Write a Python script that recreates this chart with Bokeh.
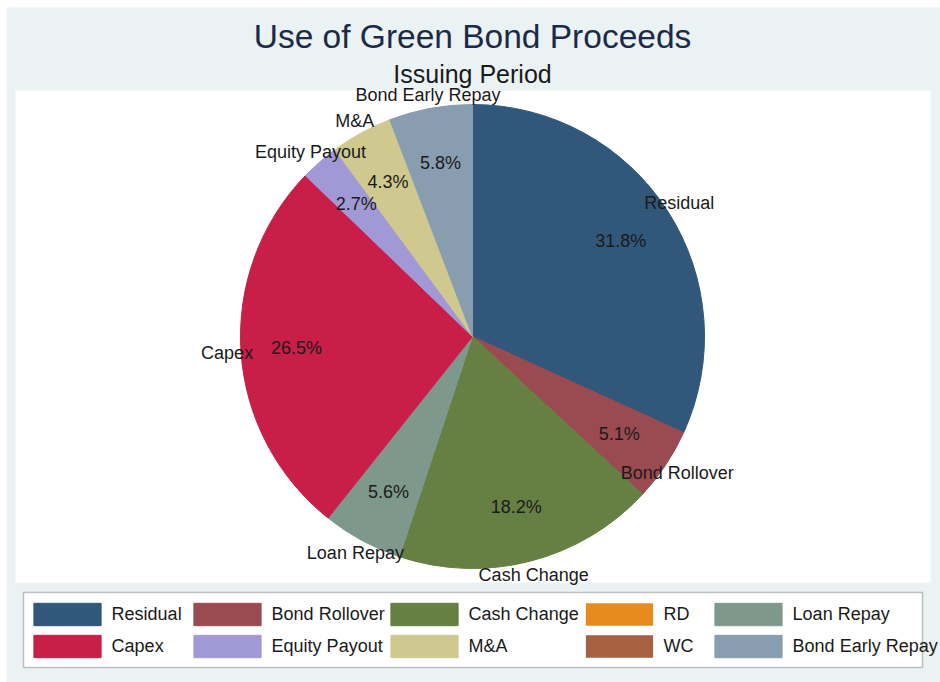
import numpy as np
from bokeh.plotting import figure
from bokeh.models import ColumnDataSource, Range1d, Label, BoxAnnotation, Legend, LegendItem
from bokeh.core.properties import value
from bokeh.embed import file_html
from bokeh.resources import INLINE

# ---- data ----
categories = ["Residual", "Bond Rollover", "Cash Change", "RD", "Loan Repay",
              "Capex", "Equity Payout", "M&A", "WC", "Bond Early Repay"]
shares = [31.8, 5.1, 18.2, 0.0, 5.6, 26.5, 2.7, 4.3, 0.0, 5.8]
colors = ["#31587A", "#9A4A51", "#667F43", "#E88B1E", "#7E998B",
          "#C81E47", "#A099D6", "#CFC98F", "#A66142", "#899DB1"]
title_text = "Use of Green Bond Proceeds"
subtitle_text = "Issuing Period"

# ---- layout (pixel-like data units, y measured up from bottom) ----
W, H = 940, 682
BG = "#EAF2F3"
FONT = "Liberation Sans"
TXT = "#1a1a1a"
cx, cy, R = 472, H - 336, 232

p = figure(width=W, height=H, x_range=Range1d(0, W), y_range=Range1d(0, H),
           x_axis_type=None, y_axis_type=None, toolbar_location=None,
           output_backend="svg", min_border=0, outline_line_color=None,
           background_fill_color="white", border_fill_color="white")
p.grid.visible = False

# graph region, plot region and legend box
p.add_layout(BoxAnnotation(left=6, right=W, top=H - 7, bottom=0,
                           fill_color=BG, fill_alpha=1, line_color=None, level="underlay"))
p.add_layout(BoxAnnotation(left=15, right=930, top=H - 90, bottom=H - 582,
                           fill_color="white", fill_alpha=1, line_color=None, level="underlay"))
p.add_layout(BoxAnnotation(left=23, right=922, top=H - 592, bottom=H - 667,
                           fill_color="white", fill_alpha=1, line_color="#3c3c3c",
                           line_width=1.5, level="underlay"))

# ---- pie ----
frac = np.array(shares) / sum(shares)
cum_end = np.cumsum(frac)
cum_start = cum_end - frac
start = np.pi / 2 - 2 * np.pi * cum_start
end = np.pi / 2 - 2 * np.pi * cum_end
src = ColumnDataSource(dict(cat=categories, share=shares, color=colors,
                            start=start, end=end,
                            rad=[R if v > 0 else 0.0 for v in shares],
                            lalpha=[1.0 if v > 0 else 0.0 for v in shares]))
wr = p.wedge(x=cx, y=cy, radius="rad", start_angle="start", end_angle="end",
             direction="clock", fill_color="color", line_color="color",
             line_alpha="lalpha", line_width=1, source=src)

# ---- slice labels ----
nz = [i for i, v in enumerate(shares) if v > 0]
mid = np.pi / 2 - 2 * np.pi * (cum_start + frac / 2)
lab = ColumnDataSource(dict(
    x=[cx + R * 1.06 * np.cos(mid[i]) for i in nz],
    y=[cy + R * 1.06 * np.sin(mid[i]) for i in nz],
    t=[categories[i] for i in nz]))
pct = ColumnDataSource(dict(
    x=[cx + R * 0.76 * np.cos(mid[i]) for i in nz],
    y=[cy + R * 0.76 * np.sin(mid[i]) for i in nz],
    t=[f"{shares[i]:.1f}%" for i in nz]))
for s in (lab, pct):
    p.text(x="x", y="y", text="t", source=s, text_align="center",
           text_baseline="middle", text_font=value(FONT),
           text_font_size="18px", text_color=TXT)

# ---- titles ----
p.add_layout(Label(x=cx, y=H - 36, text=title_text, text_align="center",
                   text_baseline="middle", text_font=FONT, text_font_size="33.5px",
                   text_color="#1C2A4A"))
p.add_layout(Label(x=cx, y=H - 73, text=subtitle_text, text_align="center",
                   text_baseline="middle", text_font=FONT, text_font_size="25px",
                   text_color=TXT))

# ---- legend: 5 columns x 2 rows ----
# Bokeh insets area swatches by 10% per side, so the glyph box is enlarged by 1/0.8
GW, GH = 84, 28
col_x = [33, 193, 390, 585, 714]
for j in range(5):
    items = [LegendItem(label=categories[i], renderers=[wr], index=i) for i in (j, j + 5)]
    lg = Legend(items=items,
                location=(col_x[j] - 0.1 * GW, H - (646 + GH / 2)),
                orientation="vertical",
                glyph_width=GW, glyph_height=GH,
                label_standoff=3, spacing=4,
                padding=0, margin=0, background_fill_alpha=0, border_line_color=None,
                label_text_font=FONT, label_text_font_size="18px",
                label_text_color=TXT, label_height=GH)
    p.add_layout(lg)

open("out.html", "w").write(file_html(p, INLINE))
